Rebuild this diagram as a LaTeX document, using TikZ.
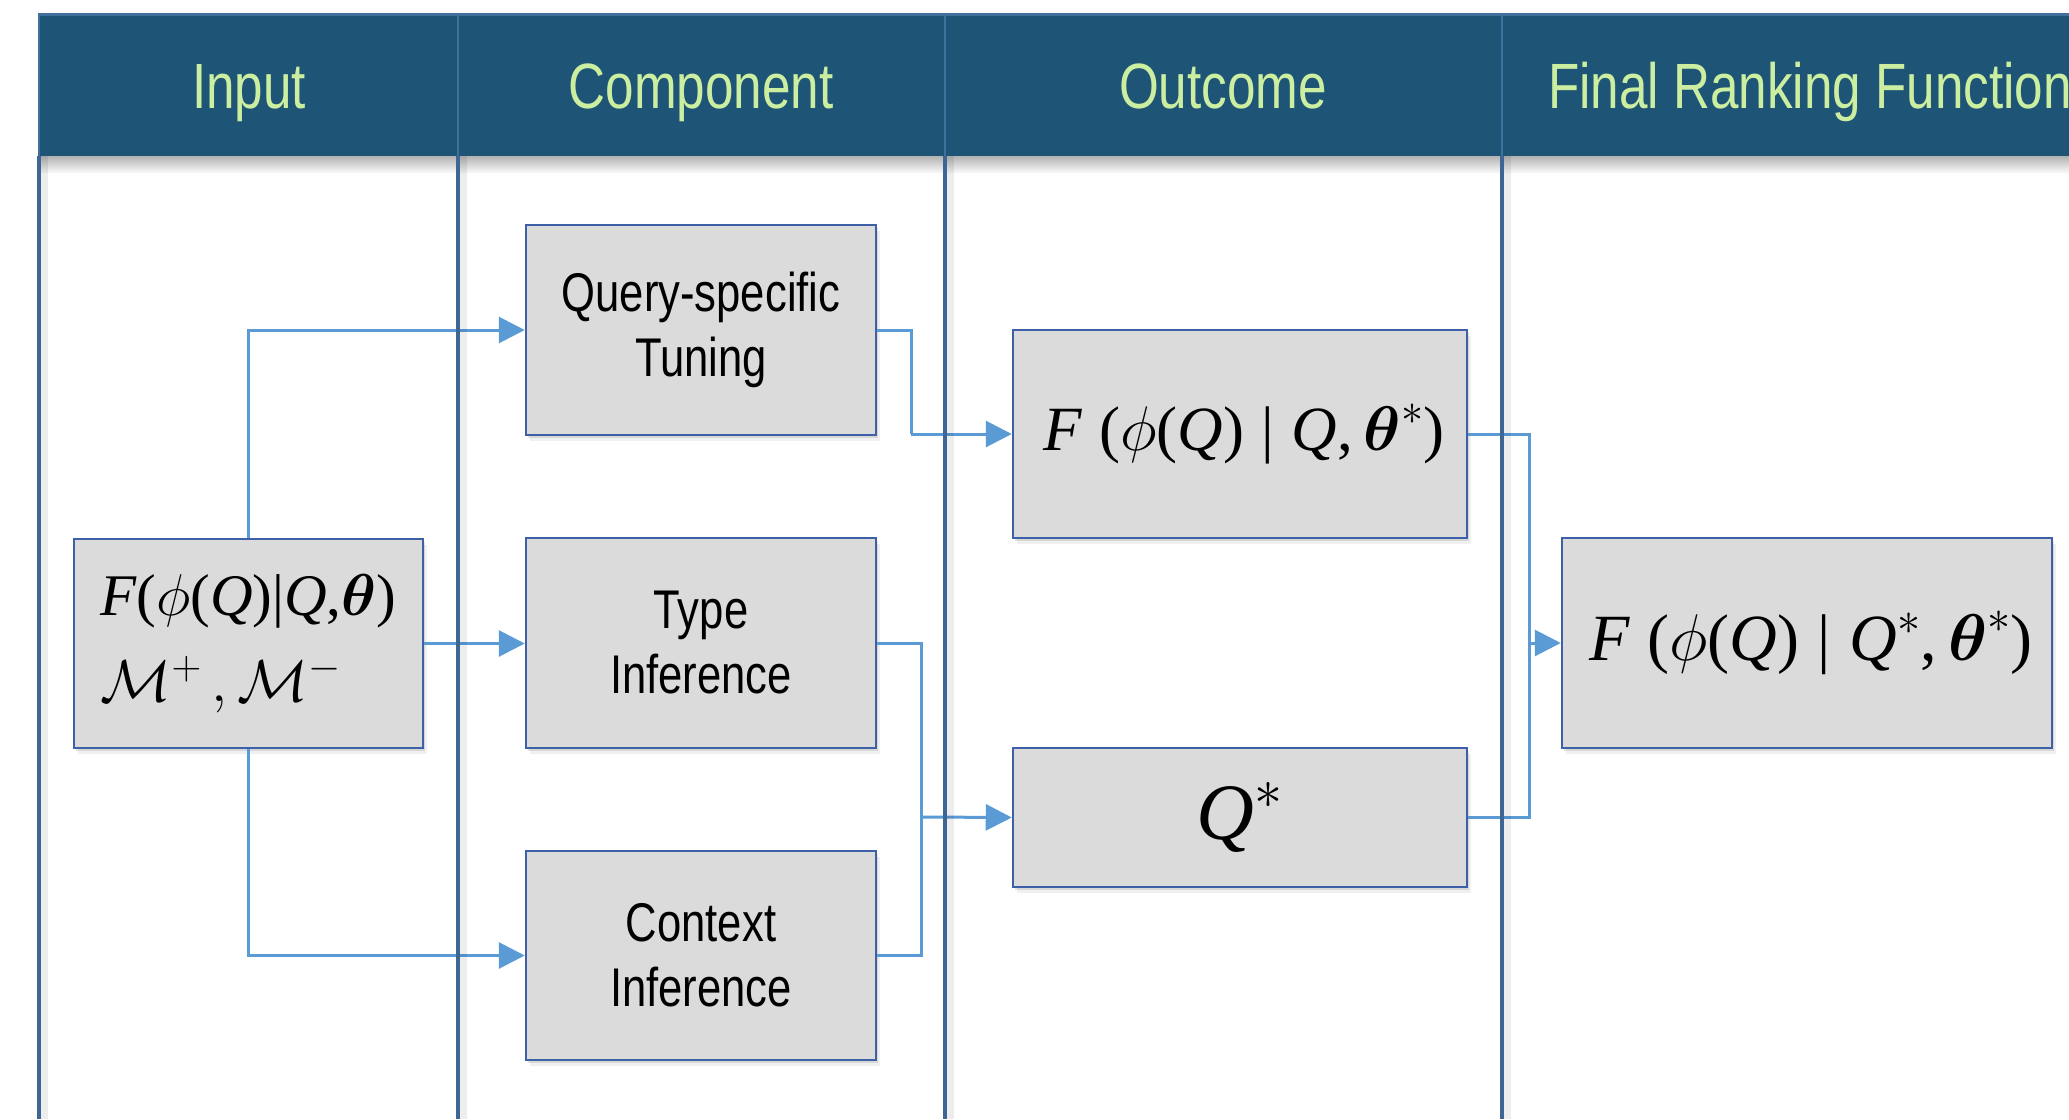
\RequirePackage{fix-cm}
\documentclass[tikz,border=0pt]{standalone}
\usepackage{amsmath}
\usepackage{fontspec}
\newfontfamily\narrowsf[FakeStretch=0.8]{Liberation Sans}
\newfontfamily\tms{Liberation Serif}
\newcommand{\tI}[1]{\mbox{\tms\itshape #1}}
\newcommand{\tR}[1]{\mbox{\tms #1}}
\usetikzlibrary{arrows.meta,shadows}
\definecolor{hdr}{RGB}{30,84,117}
\definecolor{hdrtxt}{RGB}{204,238,160}
\definecolor{hdrline}{RGB}{66,112,156}
\definecolor{colline}{RGB}{62,102,148}
\definecolor{boxfill}{RGB}{219,219,219}
\definecolor{boxline}{RGB}{62,96,168}
\definecolor{conn}{RGB}{91,155,213}
\begin{document}
\begin{tikzpicture}[x=1pt,y=-1pt,
  box/.style={draw=boxline, line width=2.5pt, fill=boxfill, rectangle, inner sep=0pt,
    general shadow={shadow xshift=4pt, shadow yshift=-6pt, fill=black, opacity=0.06},
    general shadow={shadow xshift=2pt, shadow yshift=-3pt, fill=black, opacity=0.10}},
  boxtext/.style={align=center, font=\narrowsf\fontsize{54.5}{65}\selectfont},
  mathtext/.style={font=\fontsize{59}{86}\selectfont},
  hdrtext/.style={text=hdrtxt, anchor=base, inner sep=0pt, font=\narrowsf\fontsize{64}{70}\selectfont},
  conn/.style={draw=conn, line width=3pt},
  arr/.style={conn, -{Triangle[length=26pt,width=26pt]}},
  colrule/.style={draw=colline, line width=3.5pt},
  colshadow/.style={draw=black, opacity=0.07, line width=8pt}
]
\useasboundingbox (0,0) rectangle (2069,1119);
\clip (0,0) rectangle (2069,1119);
\fill[white] (0,0) rectangle (2069,1119);

% header band
\shade[top color=black!30, bottom color=white] (40,156) rectangle (2069,174);
\fill[hdr] (38,14) rectangle (2069,156);
\draw[hdrline, line width=3pt] (38,14) -- (2069,14);
\draw[hdrline, line width=2.5pt] (39,14) -- (39,156);
\foreach \xx in {458,945,1502} \draw[hdrline, line width=2.5pt] (\xx,14) -- (\xx,156);

\node[hdrtext] (hin) at (249,108) {Input};
\node[hdrtext] (hco) at (701,108) {Component};
\node[hdrtext] (hou) at (1223,108) {Outcome};
\node[hdrtext, anchor=base west] (hfi) at (1548,108) {Final Ranking Function};

% boxes
\node[box, minimum width=349pt, minimum height=209pt] (inp) at (248.5,643.5) {};
\node[mathtext, align=left] (inptxt) at (inp.center) {$\tI{F}\tR{(}\phi\tR{(}\tI{Q}\tR{)}\tR{|}\tI{Q}\tR{,}\boldsymbol{\theta}\tR{)}$\\$\mathcal{M}^{+}\,,\mathcal{M}^{-}$};
\node[box, boxtext, minimum width=350pt, minimum height=210pt] (qt) at (701,330) {Query-specific\\Tuning};
\node[box, boxtext, minimum width=350pt, minimum height=210pt] (ti) at (701,643) {Type\\Inference};
\node[box, boxtext, minimum width=350pt, minimum height=209pt] (ci) at (701,955.5) {Context\\Inference};
\node[box, font=\fontsize{63}{80}\selectfont, minimum width=454pt, minimum height=208pt] (fb) at (1240,434) {\hspace*{8pt}$\tI{F}\;\tR{(}\phi\tR{(}\tI{Q}\tR{)}\;\tR{|}\;\tI{Q}\tR{,}\,\boldsymbol{\theta}^{*}\tR{)}$};
\node[box, minimum width=454pt, minimum height=139pt, font=\fontsize{80}{90}\selectfont] (qs) at (1240,817.5) {$\tI{Q}^{*}$};
\node[box, font=\fontsize{66}{80}\selectfont, minimum width=490pt, minimum height=210pt] (fin) at (1807,643) {\hspace*{8pt}$\tI{F}\;\tR{(}\phi\tR{(}\tI{Q}\tR{)}\;\tR{|}\;\tI{Q}^{*}\tR{,}\,\boldsymbol{\theta}^{*}\tR{)}$};

% junctions
\coordinate (j0) at (911,434);
\coordinate (j1) at (921,817);
\coordinate (j2) at (1529,643);

% connectors (below column rules)
\draw[arr] (inp.north) |- (qt.west);
\draw[arr] (inp.east) -- (inp.east -| ti.west);
\draw[arr] (inp.south) |- (ci.west);
\draw[conn] (qt.east) -| (j0);
\draw[arr] (j0) -- (fb.west);
\draw[conn] (ti.east) -| (j1);
\draw[conn] (ci.east) -| (j1);
\draw[arr] (j1) -- (qs.west);
\draw[conn] (fb.east) -| (j2);
\draw[conn] (qs.east) -| (j2);
\draw[arr] (j2) -- (fin.west);

% column rules
\foreach \xx in {39,458,945,1502} {
  \draw[colshadow] (\xx+5,156) -- (\xx+5,1119);
  \draw[colrule] (\xx,156) -- (\xx,1119);
}
\end{tikzpicture}
\end{document}
